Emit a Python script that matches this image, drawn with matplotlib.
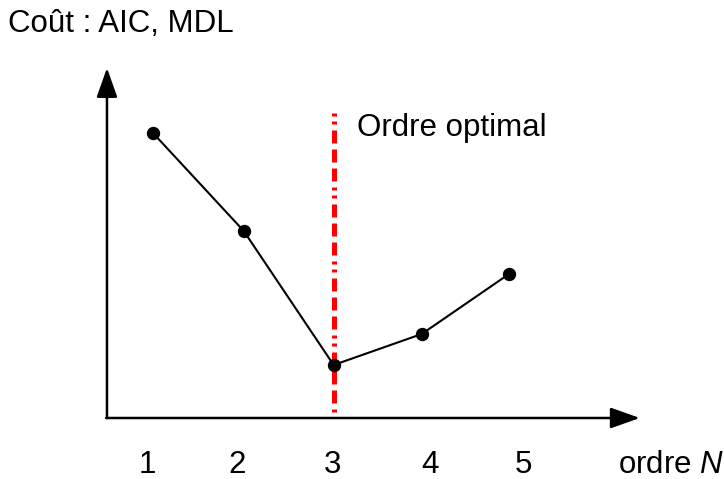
import matplotlib
matplotlib.use('Agg')
import matplotlib.pyplot as plt

# values (arbitrary cost units)
ordres = [1.0, 2.02, 3.03, 4.02, 5.0]
cout = [2.85, 1.87, 0.53, 0.84, 1.44]
ordre_optimal = 3.03

tick_labels = ['1', '2', '3', '4', '5']
tick_pos = [0.94, 1.94, 3.02, 4.11, 5.16]

plt.rcParams['font.family'] = ['Liberation Sans', 'DejaVu Sans']
plt.rcParams['mathtext.fontset'] = 'custom'
plt.rcParams['mathtext.rm'] = 'Liberation Sans'
plt.rcParams['mathtext.it'] = 'Liberation Sans:italic'

fig = plt.figure(figsize=(7.24, 4.79), dpi=100)
ax = fig.add_axes([0, 0, 1, 1])
ax.set_xlim(-0.719, 7.416)
ax.set_ylim(-0.61, 4.18)
ax.axis('off')

x0 = 0.483
fs = 22.5

# optimal order marker (dash-dot-dot style)
lw_red = 3.6
ax.plot([ordre_optimal, ordre_optimal], [3.05, 0], color='#ff0000', lw=lw_red,
        linestyle=(0, (0.6, 1.0, 0.6, 1.2, 2.6, 1.2, 2.6, 1.2, 2.6, 1.2)),
        solid_capstyle='butt', dash_capstyle='butt', zorder=2)

# axes with arrows
arrow = dict(arrowstyle='-|>,head_length=0.9,head_width=0.32', color='black',
             lw=1.8, mutation_scale=20, shrinkA=0, shrinkB=0)
ax.annotate('', xy=(x0, 3.5), xytext=(x0, 0), arrowprops=arrow, zorder=3)
ax.annotate('', xy=(6.47, 0), xytext=(x0 - 0.01, 0), arrowprops=arrow, zorder=3)

# cost curve
ax.plot(ordres, cout, color='black', lw=1.5, marker='o', markersize=8.6, zorder=4)

for pos, lab in zip(tick_pos, tick_labels):
    ax.text(pos, -0.55, lab, ha='center', va='baseline', fontsize=fs)

ax.text(6.22, -0.55, 'ordre $N$', ha='left', va='baseline', fontsize=fs)
ax.text(-0.633, 3.86, 'Coût : AIC, MDL', ha='left', va='baseline', fontsize=fs)
ax.text(3.29, 2.82, 'Ordre optimal', ha='left', va='baseline', fontsize=fs)

fig.savefig('out.png', dpi=100)
